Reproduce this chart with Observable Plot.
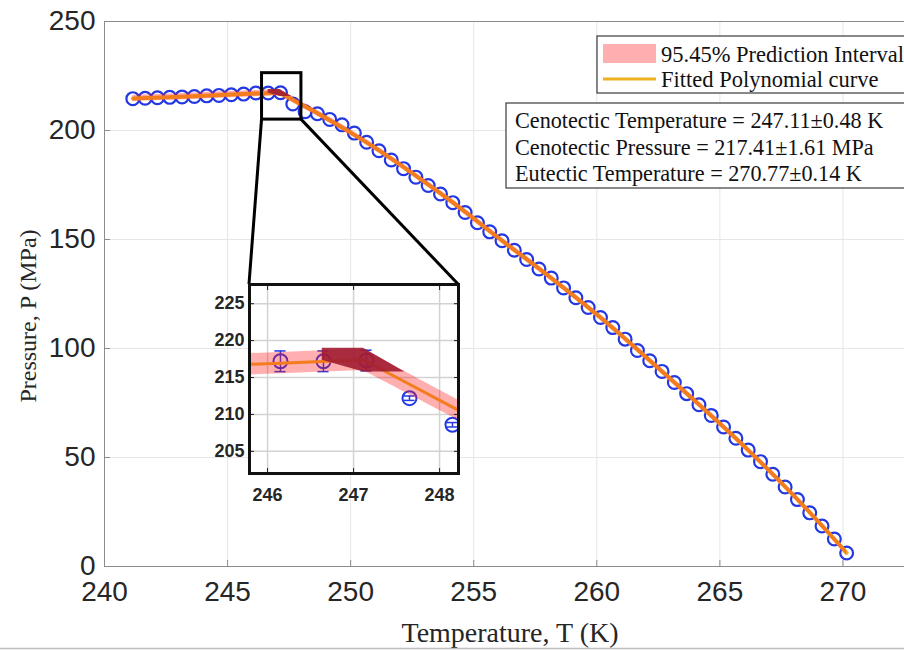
<!DOCTYPE html>
<html><head><meta charset="utf-8">
<script src="https://cdn.jsdelivr.net/npm/d3@7"></script>
<script src="https://cdn.jsdelivr.net/npm/@observablehq/plot@0.6"></script>
<style>
body{margin:0;background:#fff;}
#wrap{position:relative;width:904px;height:650px;overflow:hidden;background:#fff;}
#wrap svg{position:absolute;left:0;top:0;}
</style></head><body><div id="wrap"></div>
<script>
// ---- data ----
const temps = [241.15,241.65,242.15,242.65,243.15,243.65,244.15,244.65,245.15,245.65,
  246.15,246.65,247.15,247.65,248.15,248.65,249.15,249.65,250.15,250.65,
  251.15,251.65,252.15,252.65,253.15,253.65,254.15,254.65,255.15,255.65,
  256.15,256.65,257.15,257.65,258.15,258.65,259.15,259.65,260.15,260.65,
  261.15,261.65,262.15,262.65,263.15,263.65,264.15,264.65,265.15,265.65,
  266.15,266.65,267.15,267.65,268.15,268.65,269.15,269.65,270.15];
const pressures = [214.6,214.8,215.0,215.2,215.4,215.6,215.9,216.1,216.4,216.7,
  217.2,217.2,217.3,212.2,208.6,207.7,205.1,202.6,198.8,194.6,
  190.7,186.5,182.5,178.6,174.8,170.9,166.9,162.4,157.7,153.5,
  149.4,145.1,140.8,136.5,132.3,127.8,123.3,118.8,114.2,109.6,
  104.3,99.1,94.4,89.5,84.4,79.3,74.2,69.3,64.0,58.8,
  53.4,48.1,42.3,36.5,30.7,24.6,18.6,12.6,6.2];
const errHalf = [1.4,1.4,1.4,1.4,1.4,1.4,1.4,1.4,1.4,1.4,1.4,1.4,1.4,
  0.3,0.3,0.3,0.3,0.3,0.3,0.3,0.3,0.3,0.3,0.3,0.3,0.3,0.3,0.3,0.3,0.3,
  0.3,0.3,0.3,0.3,0.3,0.3,0.3,0.3,0.3,0.3,0.3,0.3,0.3,0.3,0.3,0.3,0.3,
  0.3,0.3,0.3,0.3,0.3,0.3,0.3,0.3,0.3,0.3,0.3,0.3];

const fitFlatT = [241.15, 243.15, 245.15, 246.15, 247.11];
const fitFlatP = [214.7, 215.5, 216.5, 216.95, 217.41];
const piFlat   = [1.45, 1.45, 1.45, 1.45, 1.45];
const fitDropT = [247.11, 248.15, 248.65, 249.15, 249.65, 250.15, 251.15, 252.15, 254.15, 256.15, 258.15, 260.15, 262.15, 264.15, 266.15, 268.15, 270.15];
const fitDropP = [217.41, 211.0, 207.9, 204.7, 201.4, 198.0, 190.9, 183.2, 167.0, 149.5, 132.3, 114.2, 94.5, 74.3, 53.4, 30.8, 6.3];
const piDrop   = [1.45, 1.35, 1.35, 1.35, 1.35, 1.35, 1.35, 1.35, 1.35, 1.35, 1.35, 1.35, 1.35, 1.35, 1.35, 1.35, 1.35];

const cenoT = [246.63, 247.11, 247.59, 247.11, 246.63];
const cenoP = [219.02, 219.02, 215.8, 215.8, 217.41];

const xTicks = [240, 245, 250, 255, 260, 265, 270];
const yTicks = [0, 50, 100, 150, 200, 250];
const insetXTicks = [246, 247, 248];
const insetYTicks = [205, 210, 215, 220, 225];
const zoomBox = {x1: 246.4, x2: 248.0, y1: 205.0, y2: 226.3};

const legendLabels = ["95.45% Prediction Interval", "Fitted Polynomial curve"];
const infoLines = ["Cenotectic Temperature = 247.11\u00B10.48 K",
                   "Cenotectic Pressure = 217.41\u00B11.61 MPa",
                   "Eutectic Temperature = 270.77\u00B10.14 K"];

// ---- tables ----
const pts = temps.map((T, i) => ({T, P: pressures[i], e: errHalf[i]}));
const flat = fitFlatT.map((T, i) => ({T, P: fitFlatP[i], h: piFlat[i]}));
const drop = fitDropT.map((T, i) => ({T, P: fitDropP[i], h: piDrop[i]}));
const ceno = cenoT.map((T, i) => ({T, P: cenoP[i]}));

const GOLD = "#EDB120", BAND = "#ff1a1a", BLUE = "#2338e2", GRID = "#e6e6e6", AX = "#8c8c8c";
const SANS = "'Liberation Sans', Arial, Helvetica, sans-serif";
const SERIF = "'Liberation Serif', 'Times New Roman', serif";
const intFmt = d => String(d);

// ---- inset layout (pixels) ----
const inset = {left: 249, top: 284, w: 209, h: 189, ml: 45, mt: 3, mr: 3, mb: 32};

const main = Plot.plot({
  width: 904, height: 650,
  marginLeft: 104, marginRight: 0, marginTop: 21, marginBottom: 84,
  style: {fontFamily: SANS, color: "#262626", background: "transparent"},
  x: {domain: [240, 272.5]},
  y: {domain: [0, 250]},
  marks: [
    Plot.ruleX(xTicks.slice(1), {stroke: GRID, strokeWidth: 1}),
    Plot.ruleY(yTicks.slice(1, -1), {stroke: GRID, strokeWidth: 1}),
    Plot.ruleX([240], {stroke: AX}),
    Plot.ruleY([0, 250], {stroke: AX}),
    Plot.dot(pts, {x: "T", y: "P", r: 6.4, stroke: BLUE, strokeWidth: 2.2}),
    Plot.line(flat, {x: "T", y: "P", stroke: GOLD, strokeWidth: 4, curve: "catmull-rom"}),
    Plot.line(drop, {x: "T", y: "P", stroke: GOLD, strokeWidth: 4, curve: "catmull-rom"}),
    Plot.areaY(flat, {x: "T", y1: d => d.P - d.h, y2: d => d.P + d.h, fill: BAND, fillOpacity: 0.35, curve: "catmull-rom"}),
    Plot.areaY(drop, {x: "T", y1: d => d.P - d.h, y2: d => d.P + d.h, fill: BAND, fillOpacity: 0.35, curve: "catmull-rom"}),
    Plot.line(ceno, {x: "T", y: "P", fill: "#a11c32", fillOpacity: 0.9, stroke: "none"}),
    Plot.rect([zoomBox], {x1: "x1", x2: "x2", y1: "y1", y2: "y2", fill: "none", stroke: "#000", strokeWidth: 3}),
    Plot.axisX({ticks: xTicks, tickSize: -6, tickPadding: 21, fontSize: 28, stroke: AX, tickFormat: intFmt, label: null}),
    Plot.axisY({ticks: yTicks, tickSize: -6, tickPadding: 15, fontSize: 28, stroke: AX, tickFormat: intFmt, label: null})
  ]
});

const wrap = document.getElementById("wrap");
wrap.appendChild(main);
const svg = d3.select(main);
const sxm = main.scale("x"), sym = main.scale("y");
const sx = d3.scaleLinear(sxm.domain, sxm.range), sy = d3.scaleLinear(sym.domain, sym.range);

// connectors from zoom box to inset
svg.append("line").attr("x1", sx(zoomBox.x1)).attr("y1", sy(zoomBox.y1))
  .attr("x2", inset.left).attr("y2", inset.top).attr("stroke", "#000").attr("stroke-width", 3);
svg.append("line").attr("x1", sx(zoomBox.x2)).attr("y1", sy(zoomBox.y1))
  .attr("x2", inset.left + inset.w).attr("y2", inset.top).attr("stroke", "#000").attr("stroke-width", 3);

// axis titles
svg.append("text").attr("x", 510).attr("y", 642).attr("text-anchor", "middle")
  .attr("font-family", SERIF).attr("font-size", 28).attr("fill", "#262626").text("Temperature, T (K)");
svg.append("text").attr("transform", "translate(36,316) rotate(-90)").attr("text-anchor", "middle")
  .attr("font-family", SERIF).attr("font-size", 24).attr("fill", "#262626").text("Pressure, P (MPa)");

// legend box
const lg = svg.append("g").attr("font-family", SERIF).attr("font-size", 22.5).attr("fill", "#111")
  .attr("text-anchor", "start");
lg.append("rect").attr("x", 597).attr("y", 36).attr("width", 330).attr("height", 57)
  .attr("fill", "#fff").attr("stroke", "#3a3a3a").attr("stroke-width", 1.2);
lg.append("rect").attr("x", 603).attr("y", 44).attr("width", 53).attr("height", 19)
  .attr("fill", BAND).attr("fill-opacity", 0.35);
lg.append("line").attr("x1", 603).attr("x2", 656).attr("y1", 79).attr("y2", 79)
  .attr("stroke", GOLD).attr("stroke-width", 3);
lg.append("text").attr("x", 661).attr("y", 62).attr("text-anchor", "start").text(legendLabels[0]);
lg.append("text").attr("x", 661).attr("y", 87).attr("text-anchor", "start").text(legendLabels[1]);

// info box
const ib = svg.append("g").attr("font-family", SERIF).attr("font-size", 22.2).attr("fill", "#111")
  .attr("text-anchor", "start");
ib.append("rect").attr("x", 506).attr("y", 103).attr("width", 420).attr("height", 85)
  .attr("fill", "#fff").attr("stroke", "#3a3a3a").attr("stroke-width", 1.2);
infoLines.forEach((t, i) => ib.append("text").attr("x", 515).attr("y", 128 + i * 26.5)
  .attr("text-anchor", "start").text(t));

// bottom border line as in the reference
svg.append("line").attr("x1", 0).attr("x2", 904).attr("y1", 648.5).attr("y2", 648.5)
  .attr("stroke", "#bdbdbd").attr("stroke-width", 1.5);

// ---- inset ----
const insetPlot = Plot.plot({
  width: inset.ml + inset.w + inset.mr, height: inset.mt + inset.h + inset.mb,
  marginLeft: inset.ml, marginRight: inset.mr, marginTop: inset.mt, marginBottom: inset.mb,
  style: {fontFamily: SANS, color: "#262626", background: "transparent"},
  x: {domain: [245.79, 248.22]},
  y: {domain: [202.0, 227.6]},
  marks: [
    Plot.frame({fill: "#fff", stroke: null}),
    Plot.ruleX(insetXTicks, {stroke: "#d2d2d2", strokeWidth: 1.5}),
    Plot.ruleY(insetYTicks, {stroke: "#d2d2d2", strokeWidth: 1.5}),
    Plot.dot(pts, {x: "T", y: "P", r: 7, stroke: BLUE, strokeWidth: 2, clip: true}),
    Plot.ruleX(pts, {x: "T", y1: d => d.P - d.e, y2: d => d.P + d.e, stroke: BLUE, strokeWidth: 1.5, clip: true}),
    Plot.ruleY(pts, {y: d => d.P - d.e, x1: d => d.T - 0.065, x2: d => d.T + 0.065, stroke: BLUE, strokeWidth: 1.5, clip: true}),
    Plot.ruleY(pts, {y: d => d.P + d.e, x1: d => d.T - 0.065, x2: d => d.T + 0.065, stroke: BLUE, strokeWidth: 1.5, clip: true}),
    Plot.line(flat, {x: "T", y: "P", stroke: GOLD, strokeWidth: 3, clip: true}),
    Plot.line(drop, {x: "T", y: "P", stroke: GOLD, strokeWidth: 3, curve: "catmull-rom", clip: true}),
    Plot.areaY(flat, {x: "T", y1: d => d.P - d.h, y2: d => d.P + d.h, fill: BAND, fillOpacity: 0.35, clip: true}),
    Plot.areaY(drop, {x: "T", y1: d => d.P - d.h, y2: d => d.P + d.h, fill: BAND, fillOpacity: 0.35, curve: "catmull-rom", clip: true}),
    Plot.line(ceno, {x: "T", y: "P", fill: "#a11c32", fillOpacity: 0.9, stroke: "none", clip: true}),
    Plot.axisX({ticks: insetXTicks, tickSize: -5, tickPadding: 20, fontSize: 18, fontWeight: "bold", stroke: "#222", tickFormat: intFmt, label: null}),
    Plot.axisX({anchor: "top", ticks: insetXTicks, tickSize: -5, tickFormat: () => "", stroke: "#222", label: null}),
    Plot.axisY({ticks: insetYTicks, tickSize: -5, tickPadding: 10, fontSize: 18, fontWeight: "bold", stroke: "#222", tickFormat: intFmt, label: null}),
    Plot.axisY({anchor: "right", ticks: insetYTicks, tickSize: -5, tickFormat: () => "", stroke: "#222", label: null}),
    Plot.frame({stroke: "#111", strokeWidth: 3})
  ]
});
insetPlot.style.left = (inset.left - inset.ml) + "px";
insetPlot.style.top = (inset.top - inset.mt) + "px";
wrap.appendChild(insetPlot);
</script>
</body></html>
